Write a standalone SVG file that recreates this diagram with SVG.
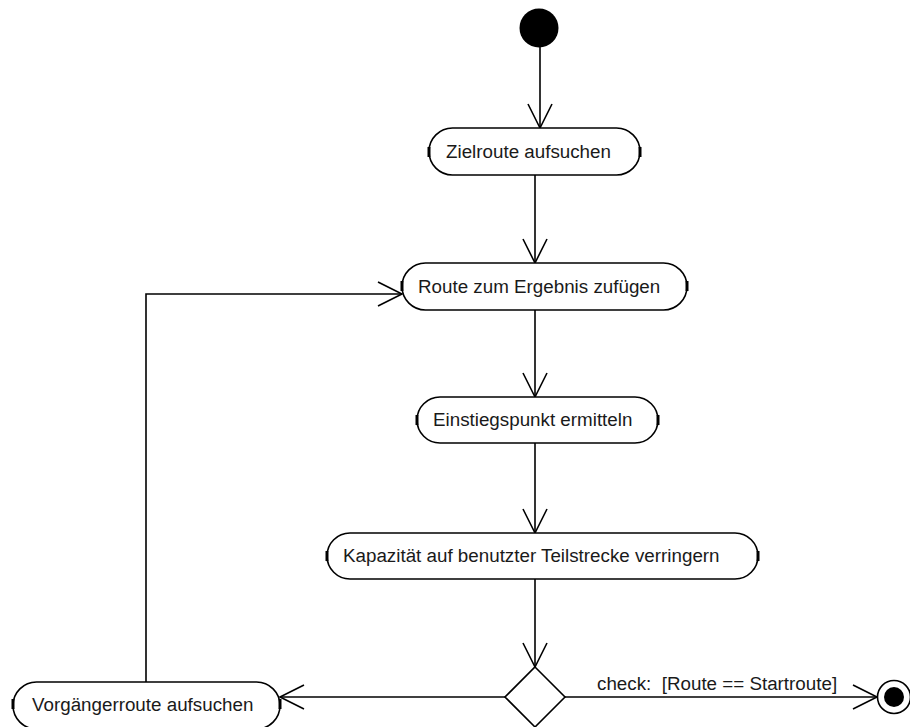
<svg xmlns="http://www.w3.org/2000/svg" width="910" height="727" viewBox="0 0 910 727">
  <style>
    .act { fill: #ffffff; stroke: #000000; stroke-width: 1.6; }
    .tick { stroke: #000000; stroke-width: 3; }
    .lbl { font-family: "Liberation Sans", Arial, sans-serif; font-size: 18.8px; fill: #1a1a1a; white-space: pre; }
    .edge { fill: none; stroke: #000000; stroke-width: 1.6; marker-end: url(#open); }
  </style>
  <defs>
    <marker id="open" markerUnits="userSpaceOnUse" viewBox="-26 -14 28 28" refX="0" refY="0" markerWidth="28" markerHeight="28" orient="auto">
      <path d="M-24,-12 L0,0 L-24,12" fill="none" stroke="#000000" stroke-width="1.6"/>
    </marker>
  </defs>
  <rect width="910" height="727" fill="#ffffff"/>

  <g id="connectors">
    <path class="edge" d="M540,47 L540,128"/>
    <path class="edge" d="M535,175 L535,263"/>
    <path class="edge" d="M535,310 L535,397"/>
    <path class="edge" d="M535,443 L535,533"/>
    <path class="edge" d="M535,579 L535,667"/>
    <path class="edge" d="M565,697 L877,697"/>
    <path class="edge" d="M505,697 L280,697"/>
    <path class="edge" d="M146,682 L146,294 L402,294"/>
    <text class="lbl" x="597" y="690" xml:space="preserve">check:  [Route == Startroute]</text>
  </g>

  <g id="start">
    <circle cx="539" cy="28" r="19.5" fill="#000000"/>
  </g>

  <g id="zielroute">
    <rect class="act" x="429" y="128" width="211" height="47" rx="23.5"/>
    <line class="tick" x1="429" y1="147" x2="429" y2="157"/>
    <line class="tick" x1="640" y1="147" x2="640" y2="157"/>
    <text class="lbl" x="446" y="158">Zielroute aufsuchen</text>
  </g>

  <g id="route-ergebnis">
    <rect class="act" x="402" y="263" width="285" height="47" rx="23.5"/>
    <line class="tick" x1="402" y1="281" x2="402" y2="291"/>
    <line class="tick" x1="687" y1="281" x2="687" y2="291"/>
    <text class="lbl" x="418" y="293">Route zum Ergebnis zufügen</text>
  </g>

  <g id="einstiegspunkt">
    <rect class="act" x="417" y="397" width="241" height="46" rx="23"/>
    <line class="tick" x1="417" y1="415" x2="417" y2="425"/>
    <line class="tick" x1="658" y1="415" x2="658" y2="425"/>
    <text class="lbl" x="433" y="426">Einstiegspunkt ermitteln</text>
  </g>

  <g id="kapazitaet">
    <rect class="act" x="327" y="533" width="431" height="46" rx="23"/>
    <line class="tick" x1="327" y1="551" x2="327" y2="561"/>
    <line class="tick" x1="758" y1="551" x2="758" y2="561"/>
    <text class="lbl" x="343" y="562">Kapazität auf benutzter Teilstrecke verringern</text>
  </g>

  <g id="entscheidung">
    <polygon class="act" points="535,667 565,697 535,727 505,697"/>
  </g>

  <g id="vorgaengerroute">
    <rect class="act" x="13" y="682" width="267" height="47" rx="23.5"/>
    <line class="tick" x1="13" y1="699" x2="13" y2="709"/>
    <line class="tick" x1="280" y1="699" x2="280" y2="709"/>
    <text class="lbl" x="32" y="711">Vorgängerroute aufsuchen</text>
  </g>

  <g id="ende">
    <circle cx="894" cy="697" r="16.5" fill="#ffffff" stroke="#000000" stroke-width="1.6"/>
    <circle cx="894" cy="697" r="10" fill="#000000"/>
  </g>
</svg>
